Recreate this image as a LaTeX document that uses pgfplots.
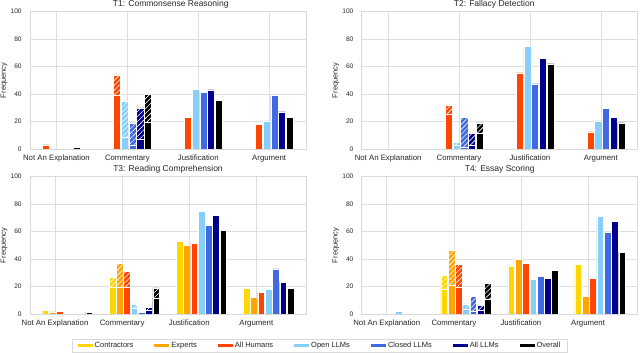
\documentclass[border=0pt]{standalone}
\usepackage{fontspec}
\setmainfont{Liberation Sans}
\usepackage{pgfplots}
\usepackage{pgfplotstable}
\pgfplotsset{compat=1.18}
\usetikzlibrary{patterns.meta}

\definecolor{cContr}{HTML}{FFD700}
\definecolor{cExp}{HTML}{FFA500}
\definecolor{cHum}{HTML}{FF4500}
\definecolor{cOpen}{HTML}{87CEFA}
\definecolor{cClosed}{HTML}{4169E1}
\definecolor{cAll}{HTML}{00008B}
\definecolor{cOver}{HTML}{000000}

% totals (hatched part on Commentary) and solid parts
\pgfplotstableread{
hum open closed allllm overall
3    0    0    0    1
54   35   19   30   40
23   43.5 41.5 43   35.5
18   20.5 39   27   23
}\totA
\pgfplotstableread{
hum open closed allllm overall
3    0    0    0    1
39   8.5  2.5  7    19.5
23   43.5 41.5 43   35.5
18   20.5 39   27   23
}\solA
\pgfplotstableread{
hum open closed allllm overall
0    0    0    0    0
32   5    23   11.5 19
55.5 74.5 47.5 66   62
12.5 20.5 29.5 23   19
}\totB
\pgfplotstableread{
hum open closed allllm overall
0    0    0    0    0
25.5 2.5  1.5  2.5  11.5
55.5 74.5 47.5 66   62
12.5 20.5 29.5 23   19
}\solB
\pgfplotstableread{
contr exp hum open closed allllm overall
2.5  1.5  2    0    0    0    1
26.5 37   31   7.3  2    5    19
52.7 50.2 51.5 74.5 64.8 71.6 61
18.7 12   15.8 17.7 32.8 23   18.9
}\totC
\pgfplotstableread{
contr exp hum open closed allllm overall
2.5  1.5  2    0    0    0    1
19.5 19.5 19.5 4    1    2.4  11.8
52.7 50.2 51.5 74.5 64.8 71.6 61
18.7 12   15.8 17.7 32.8 23   18.9
}\solC
\pgfplotstableread{
contr exp hum open closed allllm overall
0    0    0    2    0    0    0
28.4 46.5 36.4 7.3  13   6.3  22.5
35   40   37   25.2 27.2 26   32
36.2 12.6 26   71   59.2 67.2 45
}\totD
\pgfplotstableread{
contr exp hum open closed allllm overall
0    0    0    2    0    0    0
18   21.2 19.3 3.7  2    2.9  10.7
35   40   37   25.2 27.2 26   32
36.2 12.6 26   71   59.2 67.2 45
}\solD

\pgfplotsset{
  panel/.style={
    scale only axis, width=276pt, height=137.3pt, anchor=south west,
    xmin=-0.373, ymin=0, ymax=100,
    xtick={0,1,2,3}, ytick={0,20,...,100},
    xticklabels={Not An Explanation, Commentary, Justification, Argument},
    grid=major, grid style={gray!25, line width=0.6pt},
    axis line style={gray!30, line width=0.6pt},
    major tick length=0pt,
    /pgf/number format/assume math mode=true,
    xticklabel style={font=\fontsize{7.8}{8}\selectfont, text=black!85, yshift=-2.4pt},
    yticklabel style={font=\fontsize{6.6}{7}\selectfont, text=black!85, xshift=-4.8pt},
    ylabel={Frequency},
    every axis y label/.style={at={(axis description cs:-0.094,0.5)}, rotate=90, anchor=center,
      font=\fontsize{7.5}{8}\selectfont, text=black!85},
    every axis title/.style={at={(axis description cs:0.5,1)}, anchor=center, yshift=7.5pt,
      font=\fontsize{8.5}{9}\selectfont, text=black!85},
    unbounded coords=discard,
  },
}

\newcommand{\bars}[5]{%
  \addplot[forget plot, ybar, bar shift=0pt, bar width=0.1, draw=white, line width=0.5pt, fill=#4,
    postaction={pattern={Lines[angle=45,distance=3.5pt,line width=0.6pt]}, pattern color=white},
    y filter/.expression={y==0 ? nan : y}]
    table[x expr=\coordindex-0.145+0.109*#5, y=#3] {#1};
  \addplot[forget plot, ybar, bar shift=0pt, bar width=0.1, draw=white, line width=0.5pt, fill=#4,
    y filter/.expression={y==0 ? nan : y}]
    table[x expr=\coordindex-0.145+0.109*#5, y=#3] {#2};
}

\begin{document}
\begin{tikzpicture}
\path[use as bounding box] (0,0) rectangle (640pt,353pt);

\begin{axis}[panel, at={(30pt,204pt)}, xmax=3.52, title={T1: Commonsense Reasoning},
  title style={at={(axis description cs:0.51,1)}}]
\bars{\totA}{\solA}{hum}{cHum}{0}
\bars{\totA}{\solA}{open}{cOpen}{1}
\bars{\totA}{\solA}{closed}{cClosed}{2}
\bars{\totA}{\solA}{allllm}{cAll}{3}
\bars{\totA}{\solA}{overall}{cOver}{4}
\end{axis}

\begin{axis}[panel, at={(361.7pt,204pt)}, xmax=3.52, title={T2: Fallacy Detection},
  title style={at={(axis description cs:0.48,1)}}]
\bars{\totB}{\solB}{hum}{cHum}{0}
\bars{\totB}{\solB}{open}{cOpen}{1}
\bars{\totB}{\solB}{closed}{cClosed}{2}
\bars{\totB}{\solB}{allllm}{cAll}{3}
\bars{\totB}{\solB}{overall}{cOver}{4}
\end{axis}

\begin{axis}[panel, at={(30pt,39pt)}, xmax=3.74, title={T3: Reading Comprehension},
  legend columns=7,
  legend image code/.code={\fill[#1, draw=none] (0pt,-1.4pt) rectangle (15pt,1.4pt);},
  legend style={at={(axis description cs:1.0507,-0.2294)}, anchor=center,
    draw=gray!30, font=\fontsize{7.5}{8}\selectfont, text=black!85,
    inner xsep=5pt, inner ysep=1pt,
    /tikz/every even column/.append style={column sep=19pt}}]
\addlegendimage{fill=cContr}\addlegendentry{Contractors}
\addlegendimage{fill=cExp}\addlegendentry{Experts}
\addlegendimage{fill=cHum}\addlegendentry{All Humans}
\addlegendimage{fill=cOpen}\addlegendentry{Open LLMs}
\addlegendimage{fill=cClosed}\addlegendentry{Closed LLMs}
\addlegendimage{fill=cAll}\addlegendentry{All LLMs}
\addlegendimage{fill=cOver}\addlegendentry{Overall}
\bars{\totC}{\solC}{contr}{cContr}{0}
\bars{\totC}{\solC}{exp}{cExp}{1}
\bars{\totC}{\solC}{hum}{cHum}{2}
\bars{\totC}{\solC}{open}{cOpen}{3}
\bars{\totC}{\solC}{closed}{cClosed}{4}
\bars{\totC}{\solC}{allllm}{cAll}{5}
\bars{\totC}{\solC}{overall}{cOver}{6}
\end{axis}

\begin{axis}[panel, at={(361.7pt,39pt)}, xmax=3.74, title={T4: Essay Scoring}]
\bars{\totD}{\solD}{contr}{cContr}{0}
\bars{\totD}{\solD}{exp}{cExp}{1}
\bars{\totD}{\solD}{hum}{cHum}{2}
\bars{\totD}{\solD}{open}{cOpen}{3}
\bars{\totD}{\solD}{closed}{cClosed}{4}
\bars{\totD}{\solD}{allllm}{cAll}{5}
\bars{\totD}{\solD}{overall}{cOver}{6}
\end{axis}
\end{tikzpicture}
\end{document}
